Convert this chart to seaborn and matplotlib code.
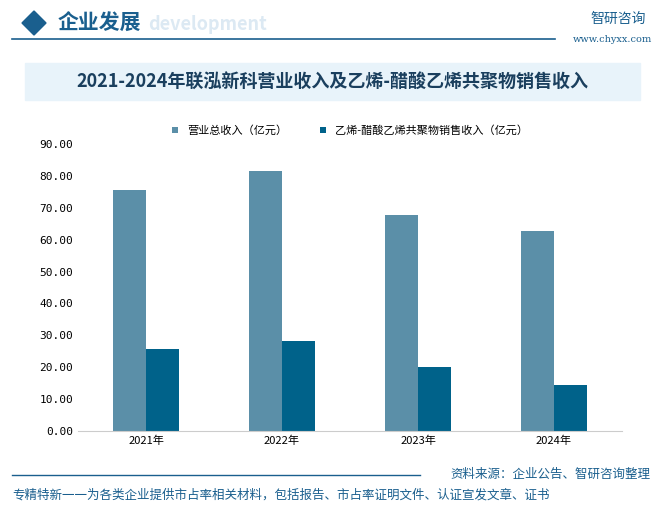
import matplotlib
matplotlib.use("Agg")
import matplotlib.pyplot as plt
import seaborn as sns
import pandas as pd
from matplotlib.patches import Rectangle, Polygon

plt.rcParams["font.family"] = "Noto Sans CJK SC"

years = ["2021年", "2022年", "2023年", "2024年"]
total = [75.5, 81.5, 67.7, 62.7]
eva = [25.7, 28.2, 20.1, 14.4]
s1 = "营业总收入（亿元）"
s2 = "乙烯-醋酸乙烯共聚物销售收入（亿元）"
yticks = [0, 10, 20, 30, 40, 50, 60, 70, 80, 90]

df = pd.DataFrame({"year": years * 2, "val": total + eva, "series": [s1] * 4 + [s2] * 4})

fig = plt.figure(figsize=(6.64, 5.08), dpi=100)
W, H = 664, 508
def fx(x): return x / W
def fy(y): return 1 - y / H

# header
fig.patches.append(Polygon([[fx(22), fy(23)], [fx(34), fy(11)], [fx(46), fy(23)], [fx(34), fy(35)]],
                           closed=True, transform=fig.transFigure, color="#1a5f8e"))
fig.text(fx(58), fy(23), "企业发展", fontsize=15, color="#1a5f8e", va="center", fontweight="bold")
fig.text(fx(148), fy(25), "development", fontsize=13, color="#dce9f3", va="center", fontweight="bold")
fig.add_artist(plt.Line2D([fx(12), fx(555)], [fy(39), fy(39)], color="#1a5f8e", lw=1.2))
fig.text(fx(590), fy(19), "智研咨询", fontsize=10, color="#1a5f8e", va="center")
fig.text(fx(573), fy(40), "www.chyxx.com", fontsize=7, color="#1a5f8e", va="center", family="DejaVu Serif")
fig.patches.append(Rectangle((fx(25), fy(100)), fx(615), 37 / H, transform=fig.transFigure,
                             color="#e8f3fa"))
fig.text(fx(332), fy(81), "2021-2024年联泓新科营业收入及乙烯-醋酸乙烯共聚物销售收入",
         fontsize=13, color="#1a3f5e", ha="center", va="center", fontweight="bold")

ax = fig.add_axes([fx(78), fy(431), fx(544), 287 / H])
sns.barplot(data=df, x="year", y="val", hue="series", palette=["#5b8fa8", "#00628a"],
            width=0.49, ax=ax, saturation=1)
ax.set_ylim(0, 90)
ax.set_yticks(yticks)
ax.set_yticklabels([f"{v:.2f}" for v in yticks], family="DejaVu Sans Mono", fontsize=8)
ax.tick_params(axis="both", length=0, labelsize=8)
ax.set_xlabel(""); ax.set_ylabel("")
for s in ["top", "right", "left"]:
    ax.spines[s].set_visible(False)
ax.spines["bottom"].set_color("#cccccc")
ax.legend(loc="upper center", bbox_to_anchor=(0.5, 1.1), ncol=2, frameon=False,
          fontsize=8, handlelength=0.5, handleheight=0.5, columnspacing=3)

fig.add_artist(plt.Line2D([fx(12), fx(420)], [fy(475), fy(475)], color="#1a5f8e", lw=1))
fig.text(fx(650), fy(474), "资料来源：企业公告、智研咨询整理", fontsize=9, color="#1a5f8e",
         ha="right", va="center")
fig.text(fx(12), fy(495), "专精特新一一为各类企业提供市占率相关材料，包括报告、市占率证明文件、认证宣发文章、证书",
         fontsize=9, color="#1a5f8e", va="center")

fig.savefig("out.png", dpi=100)
